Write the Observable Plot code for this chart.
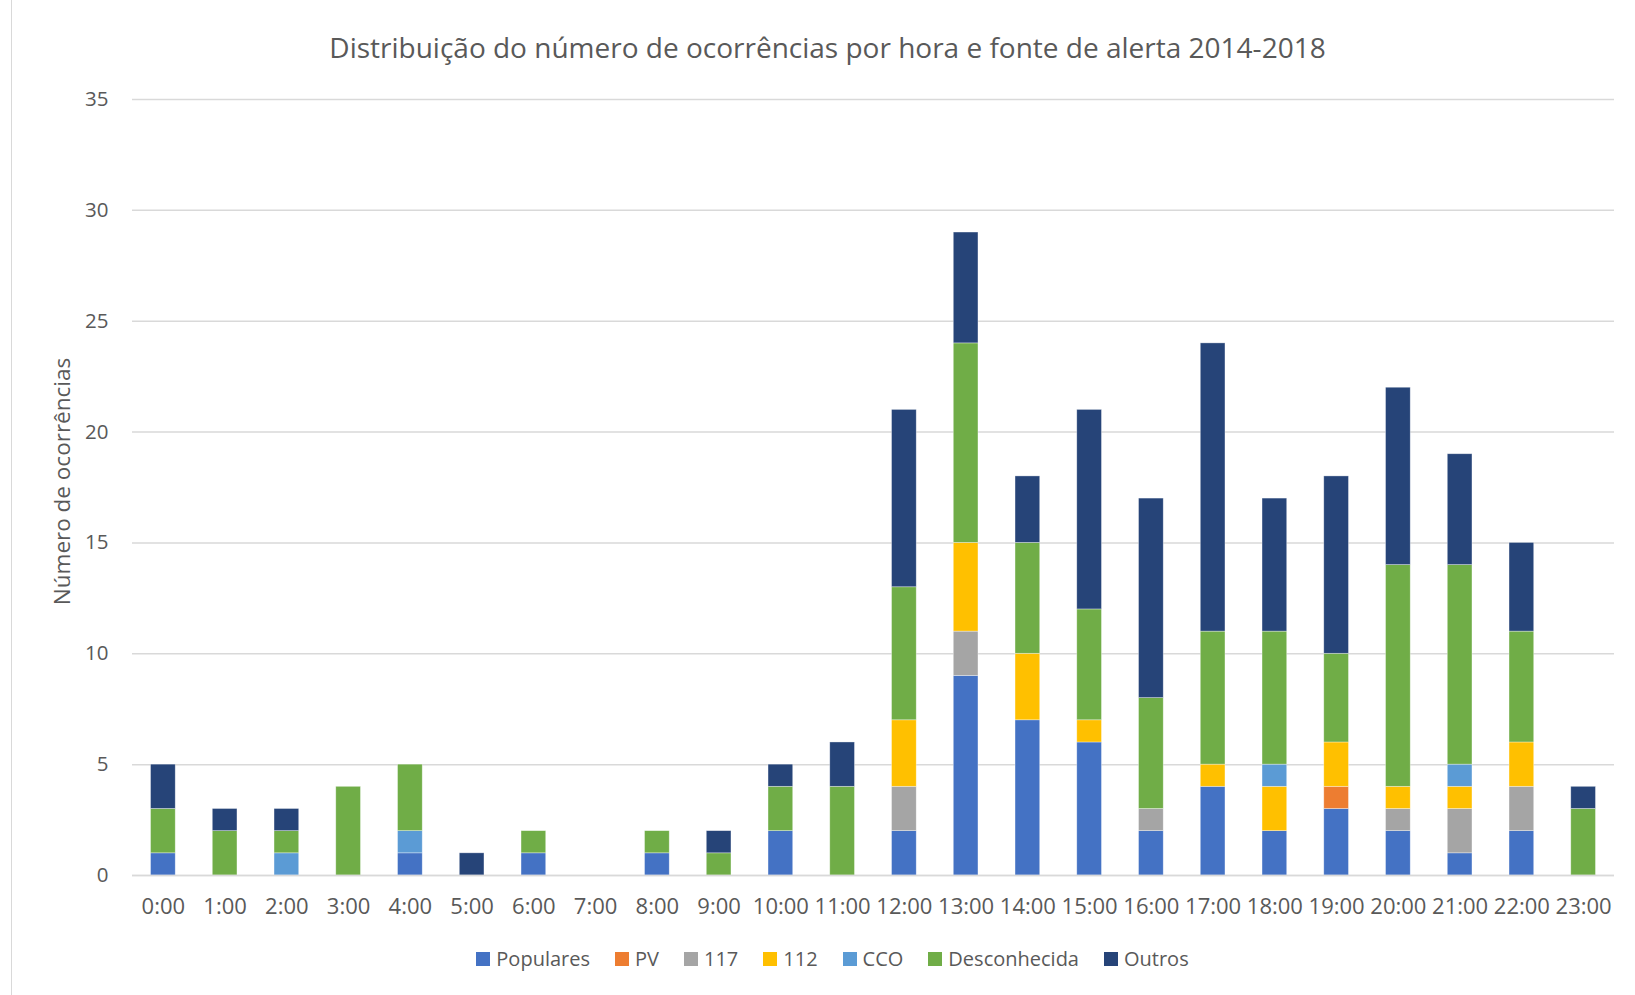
<!DOCTYPE html>
<html>
<head>
<meta charset="utf-8">
<script src="https://cdn.jsdelivr.net/npm/d3@7"></script>
<script src="https://cdn.jsdelivr.net/npm/@observablehq/plot@0.6"></script>
<style>
  body { margin: 0; background: #fff; font-family: "Open Sans", sans-serif; }
  #frame { position: relative; width: 1635px; height: 995px; overflow: hidden; }
  #frame::before { content: ""; position: absolute; left: 11px; top: 0; bottom: 0; width: 1px; background: #d9d9d9; }
  #title { height: 80px; line-height: 94px; text-align: center; font-size: 28px; color: #595959; padding-left: 20px; box-sizing: border-box; }
  #legend { display: flex; justify-content: center; align-items: center; gap: 25px; font-size: 20px; color: #595959; padding-left: 30px; margin-top: 15px; }
  #legend .item { display: flex; align-items: center; gap: 6px; }
  #legend .sw { width: 14px; height: 14px; display: inline-block; }
</style>
</head>
<body>
<div id="frame">
  <div id="title">Distribuição do número de ocorrências por hora e fonte de alerta 2014-2018</div>
  <div id="chart"></div>
  <div id="legend"></div>
</div>
<script>
const hours = ["0:00","1:00","2:00","3:00","4:00","5:00","6:00","7:00","8:00","9:00","10:00","11:00","12:00","13:00","14:00","15:00","16:00","17:00","18:00","19:00","20:00","21:00","22:00","23:00"];
const seriesNames = ["Populares","PV","117","112","CCO","Desconhecida","Outros"];
const seriesColors = ["#4472C4","#ED7D31","#A5A5A5","#FFC000","#5B9BD5","#70AD47","#264478"];
const populares     = [1,0,0,0,1,0,1,0,1,0,2,0,2,9,7,6,2,4,2,3,2,1,2,0];
const pv            = [0,0,0,0,0,0,0,0,0,0,0,0,0,0,0,0,0,0,0,1,0,0,0,0];
const s117          = [0,0,0,0,0,0,0,0,0,0,0,0,2,2,0,0,1,0,0,0,1,2,2,0];
const s112          = [0,0,0,0,0,0,0,0,0,0,0,0,3,4,3,1,0,1,2,2,1,1,2,0];
const cco           = [0,0,1,0,1,0,0,0,0,0,0,0,0,0,0,0,0,0,1,0,0,1,0,0];
const desconhecida  = [2,2,1,4,3,0,1,0,1,1,2,4,6,9,5,5,5,6,6,4,10,9,5,3];
const outros        = [2,1,1,0,0,1,0,0,0,1,1,2,8,5,3,9,9,13,6,8,8,5,4,1];
const yTicks = [0,5,10,15,20,25,30,35];

const seriesValues = [populares, pv, s117, s112, cco, desconhecida, outros];
const rows = [];
seriesNames.forEach((name, si) => {
  hours.forEach((h, hi) => {
    rows.push({hour: h, series: name, value: seriesValues[si][hi]});
  });
});

const chart = Plot.plot({
  width: 1635,
  height: 850,
  marginLeft: 132,
  marginRight: 21,
  marginTop: 19,
  marginBottom: 55,
  style: {fontFamily: "Open Sans, sans-serif", fontSize: "20px", color: "#595959", background: "transparent"},
  x: {domain: hours, paddingInner: 0.6, paddingOuter: 0.3, round: false, label: null},
  y: {domain: [0, 35], label: null},
  color: {domain: seriesNames, range: seriesColors},
  marks: [
    Plot.gridY(yTicks, {stroke: "#d9d9d9", strokeOpacity: 1, strokeWidth: 1.5}),
    Plot.barY(rows, Plot.stackY({
      x: "hour", y: "value", z: "series", fill: "series",
      order: seriesNames,
      stroke: "#ffffff", strokeOpacity: 0.5, strokeWidth: 0.7
    })),
    Plot.ruleY([0], {stroke: "#d9d9d9", strokeWidth: 1.5}),
    Plot.axisX({tickSize: 0, tickPadding: 23, fill: "#595959", fontSize: 22, label: null}),
    Plot.axisY(yTicks, {tickSize: 0, tickPadding: 24, fill: "#595959", fontSize: 20.5, label: null}),
    Plot.text(["Número de ocorrências"], {
      frameAnchor: "left", dx: -70, dy: -6, rotate: -90, textAnchor: "middle", fill: "#595959", fontSize: 22.5
    })
  ]
});
document.getElementById("chart").appendChild(chart);

const legend = document.getElementById("legend");
seriesNames.forEach((name, i) => {
  const item = document.createElement("span");
  item.className = "item";
  const sw = document.createElement("span");
  sw.className = "sw";
  sw.style.background = seriesColors[i];
  item.appendChild(sw);
  item.appendChild(document.createTextNode(name));
  legend.appendChild(item);
});
</script>
</body>
</html>
